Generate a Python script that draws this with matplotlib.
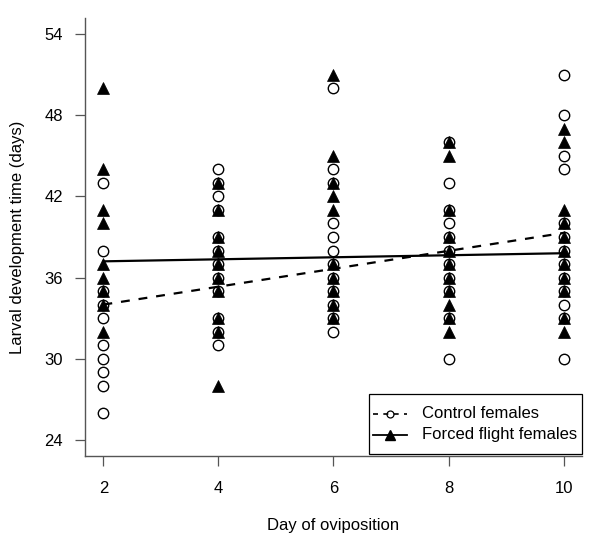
import matplotlib
matplotlib.use("Agg")
import matplotlib.pyplot as plt
from matplotlib.lines import Line2D
from matplotlib.patches import Rectangle

plt.rcParams['font.family'] = ['Liberation Sans', 'DejaVu Sans']

days = [2, 4, 6, 8, 10]
control = {
    2: [43, 38, 35, 34, 33, 31, 30, 29, 28, 26],
    4: [44, 43, 42, 41, 39, 38, 37, 36, 35, 33, 32, 31],
    6: [50, 44, 43, 40, 39, 38, 37, 36, 35, 34, 33, 32],
    8: [46, 43, 41, 40, 39, 38, 37, 36, 35, 33, 30],
    10: [51, 48, 45, 44, 40, 39, 38, 37, 36, 35, 34, 33, 30],
}
forced = {
    2: [50, 44, 41, 40, 37, 36, 35, 34, 32],
    4: [43, 41, 39, 38, 37, 36, 35, 33, 32, 28],
    6: [51, 45, 43, 42, 41, 37, 36, 35, 34, 33],
    8: [46, 45, 41, 39, 38, 37, 36, 35, 34, 33, 32],
    10: [47, 46, 41, 40, 39, 38, 37, 36, 35, 33, 32],
}
control_fit = [34.0, 39.3]   # at day 2 and day 10
forced_fit = [37.2, 37.8]
fit_x = [2, 10]
yticks = [24, 30, 36, 42, 48, 54]
xticks = [2, 4, 6, 8, 10]
legend_labels = ['Control females', 'Forced flight females']

W, H = 600, 547
fig = plt.figure(figsize=(W/100, H/100), dpi=100)
ax = fig.add_axes([85/W, 1-456/H, (582-85)/W, (456-18)/H])

for d in days:
    ax.plot([d]*len(control[d]), control[d], linestyle='none', marker='o',
            ms=7.5, mfc='none', mec='black', mew=1.0, zorder=3)
    ax.plot([d]*len(forced[d]), forced[d], linestyle='none', marker='^',
            ms=8, mfc='black', mec='black', mew=0.5, zorder=4)

ax.plot(fit_x, control_fit, color='black', lw=1.6, linestyle=(0, (4, 4)), zorder=5)
ax.plot(fit_x, forced_fit, color='black', lw=1.6, linestyle='-', zorder=5)

ax.set_xlim(1.68, 10.32)
ax.set_ylim(22.8, 55.2)
ax.set_xticks(xticks)
ax.set_yticks(yticks)
ax.tick_params(direction='out', length=7, width=0.9, color='#555555', labelsize=12)
ax.tick_params(axis='x', pad=11)
ax.tick_params(axis='y', pad=9)
for s in ['top', 'right']:
    ax.spines[s].set_visible(False)
for s in ['left', 'bottom']:
    ax.spines[s].set_color('#555555')
    ax.spines[s].set_linewidth(1.0)

ax.set_xlabel('Day of oviposition', fontsize=12, labelpad=16)
ax.set_ylabel('Larval development time (days)', fontsize=12, labelpad=14)

def fx(px):
    return px / W

def fy(py):
    return 1 - py / H

fig.add_artist(Rectangle((fx(369), fy(454)), fx(582) - fx(369), fy(394) - fy(454),
                         transform=fig.transFigure, facecolor='white',
                         edgecolor='black', lw=0.9, zorder=10))
rows = [414, 435]
fig.add_artist(Line2D([fx(373), fx(407)], [fy(rows[0])]*2, transform=fig.transFigure,
                      color='black', lw=1.2, linestyle=(0, (3, 3.2)), zorder=11))
fig.add_artist(Line2D([fx(390)], [fy(rows[0])], transform=fig.transFigure, marker='o',
                      ms=5, mfc='none', mec='black', mew=0.9, zorder=12))
fig.add_artist(Line2D([fx(373), fx(407)], [fy(rows[1])]*2, transform=fig.transFigure,
                      color='black', lw=1.3, zorder=11))
fig.add_artist(Line2D([fx(390)], [fy(rows[1])], transform=fig.transFigure, marker='^',
                      ms=7, mfc='black', mec='black', zorder=12))
for r, lab in zip(rows, legend_labels):
    fig.text(fx(422), fy(r), lab, fontsize=12, va='center', ha='left', zorder=12)

fig.savefig('out.png', dpi=100)
